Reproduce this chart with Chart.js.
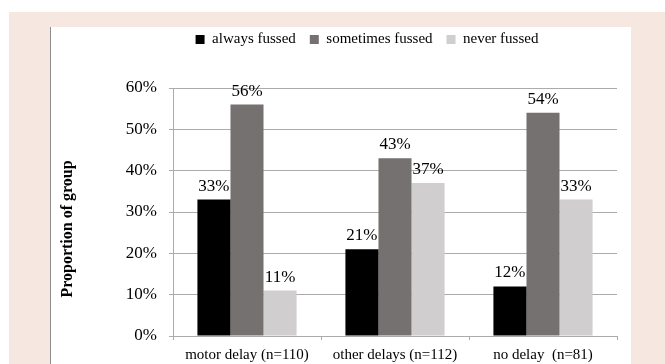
<!DOCTYPE html>
<html>
<head>
<meta charset="utf-8">
<script src="https://cdn.jsdelivr.net/npm/chart.js@4.4.0/dist/chart.umd.min.js"></script>
<style>
  html, body { margin: 0; padding: 0; background: #ffffff; }
  #wrap { width: 665px; height: 364px; }
  canvas { display: block; }
</style>
</head>
<body>
<div id="wrap"><canvas id="chart" width="665" height="364"></canvas></div>
<script>
// Groups on the x axis
const categories = ['motor delay (n=110)', 'other delays (n=112)', 'no delay  (n=81)'];
// Series names
const seriesNames = ['always fussed', 'sometimes fussed', 'never fussed'];
// Share of each group, in percent
const alwaysFussed = [33, 21, 12];
const sometimesFussed = [56, 43, 54];
const neverFussed = [11, 37, 33];
// Y axis range and step, in percent
const yMin = 0;
const yMax = 60;
const yStep = 10;
const yTitle = 'Proportion of group';

const SERIF = "'Liberation Serif', 'Times New Roman', serif";
const GRID = '#ababab';

// Page frame: pink border with a white panel
const framePlugin = {
  id: 'frame',
  beforeDraw(chart) {
    const ctx = chart.ctx;
    ctx.save();
    ctx.fillStyle = '#ffffff';
    ctx.fillRect(0, 0, chart.width, chart.height);
    ctx.fillStyle = '#f6e7e0';
    ctx.fillRect(9, 12, chart.width - 9, chart.height - 12);
    ctx.fillStyle = '#ffffff';
    ctx.fillRect(51, 27, 580, chart.height - 27);
    ctx.fillStyle = '#8e8e8e';
    ctx.fillRect(50, 27, 1, chart.height - 27);
    ctx.restore();
  }
};

// Fixed legend height so the plot starts below it with room to spare
const legendHeightPlugin = {
  id: 'legendHeight',
  beforeLayout(chart) {
    const lg = chart.legend;
    if (lg && !lg._fixedHeight) {
      const fit = lg.fit.bind(lg);
      lg.fit = function () { fit(); this.height = 70; };
      lg._fixedHeight = true;
    }
  }
};

// Percent labels above each bar
const valueLabelPlugin = {
  id: 'valueLabels',
  afterDatasetsDraw(chart) {
    const ctx = chart.ctx;
    ctx.save();
    ctx.font = '17px ' + SERIF;
    ctx.fillStyle = '#000000';
    ctx.textAlign = 'center';
    ctx.textBaseline = 'alphabetic';
    chart.data.datasets.forEach((ds, i) => {
      const meta = chart.getDatasetMeta(i);
      meta.data.forEach((bar, j) => {
        ctx.fillText(ds.data[j] + '%', bar.x, bar.y - 9);
      });
    });
    ctx.restore();
  }
};

// Rotated y axis title
const yTitlePlugin = {
  id: 'yTitle',
  afterDraw(chart) {
    const ctx = chart.ctx;
    ctx.save();
    ctx.translate(68, 229);
    ctx.rotate(-Math.PI / 2);
    ctx.font = 'bold 16px ' + SERIF;
    ctx.fillStyle = '#000000';
    ctx.textAlign = 'center';
    ctx.textBaseline = 'middle';
    ctx.fillText(yTitle, 0, 0);
    ctx.restore();
  }
};

const colors = ['#000000', '#767171', '#d0cece'];
const values = [alwaysFussed, sometimesFussed, neverFussed];

new Chart(document.getElementById('chart'), {
  type: 'bar',
  data: {
    labels: categories,
    datasets: seriesNames.map((name, i) => ({
      label: name,
      data: values[i],
      backgroundColor: colors[i],
      borderWidth: 0,
      categoryPercentage: 0.67,
      barPercentage: 1.0
    }))
  },
  options: {
    responsive: false,
    devicePixelRatio: 1,
    animation: false,
    layout: { padding: { left: 117, right: 48, top: 18, bottom: 0 } },
    plugins: {
      legend: {
        display: true,
        position: 'top',
        labels: {
          boxWidth: 9,
          boxHeight: 9,
          padding: 14,
          color: '#000000',
          font: { family: SERIF, size: 15 }
        }
      },
      tooltip: { enabled: false }
    },
    scales: {
      x: {
        afterFit(scale) { scale.height = 28; },
        grid: {
          display: true,
          offset: true,
          drawOnChartArea: false,
          drawTicks: true,
          tickLength: 4,
          color: GRID
        },
        border: { display: true, color: GRID, width: 1 },
        ticks: {
          color: '#000000',
          padding: 6,
          maxRotation: 0,
          font: { family: SERIF, size: 15 }
        }
      },
      y: {
        min: yMin,
        max: yMax,
        afterFit(scale) { scale.width = 56; },
        grid: {
          color: GRID,
          drawTicks: true,
          tickLength: 4
        },
        border: { display: true, color: GRID, width: 1 },
        ticks: {
          stepSize: yStep,
          padding: 12,
          color: '#000000',
          font: { family: SERIF, size: 17 },
          callback: (v) => v + '%'
        }
      }
    }
  },
  plugins: [framePlugin, legendHeightPlugin, valueLabelPlugin, yTitlePlugin]
});
</script>
</body>
</html>
